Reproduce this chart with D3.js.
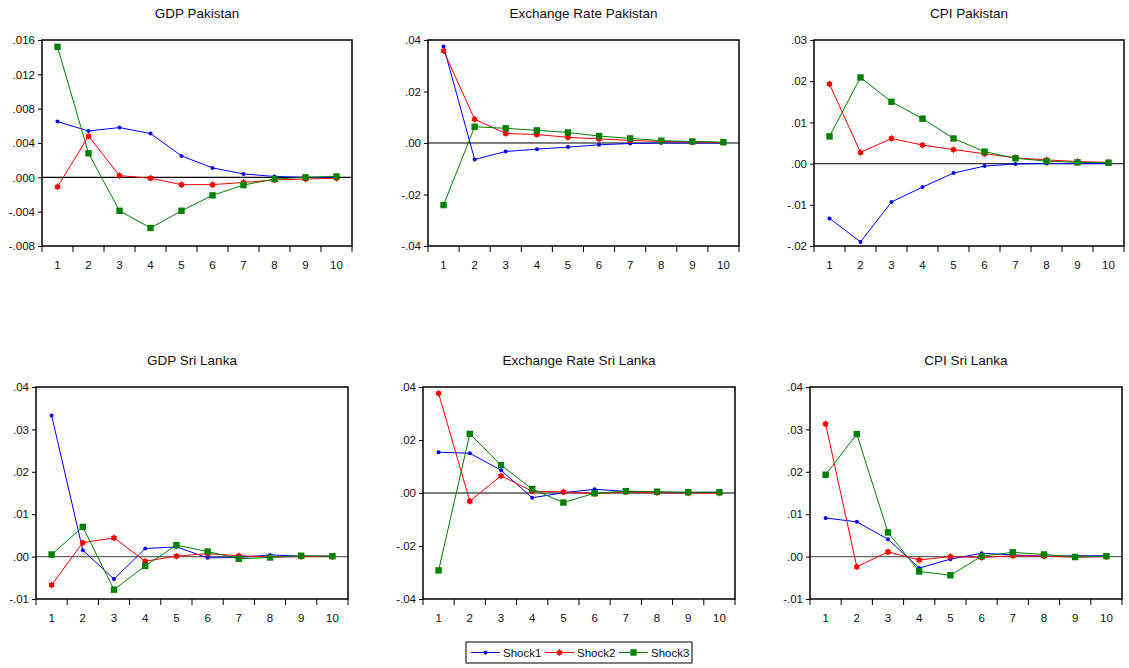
<!DOCTYPE html>
<html><head><meta charset="utf-8">
<script src="https://cdn.jsdelivr.net/npm/d3@7"></script>
<style>body{margin:0;background:#fff}svg{display:block}text{font-family:"Liberation Sans",Arial,sans-serif;fill:#111}</style>
</head><body><svg id="c" width="1129" height="668"></svg>
<script>
const periods = [1,2,3,4,5,6,7,8,9,10];
const seriesNames = ["Shock1","Shock2","Shock3"];
const titles = ["GDP Pakistan","Exchange Rate Pakistan","CPI Pakistan","GDP Sri Lanka","Exchange Rate Sri Lanka","CPI Sri Lanka"];

// GDP Pakistan
const gdpPkShock1 = [0.0065,0.0054,0.0058,0.0051,0.0025,0.0011,0.0004,0.0001,0.0000,0.0000];
const gdpPkShock2 = [-0.0011,0.0048,0.0002,-0.0001,-0.00085,-0.00085,-0.0006,-0.0003,-0.0002,-0.0001];
const gdpPkShock3 = [0.0152,0.0028,-0.0039,-0.0059,-0.0039,-0.0021,-0.0009,-0.0002,0.0000,0.0001];
const gdpPkTicks = [-0.008,-0.004,0,0.004,0.008,0.012,0.016];
// Exchange Rate Pakistan
const erPkShock1 = [0.0375,-0.0064,-0.0033,-0.0024,-0.0016,-0.0007,-0.0002,0.0000,0.0000,0.0000];
const erPkShock2 = [0.0358,0.0092,0.0037,0.0033,0.0022,0.0016,0.0010,0.0006,0.0004,0.0002];
const erPkShock3 = [-0.0241,0.0063,0.0057,0.0049,0.0041,0.0027,0.0018,0.0009,0.0006,0.0003];
const erPkTicks = [-0.04,-0.02,0,0.02,0.04];
// CPI Pakistan
const cpiPkShock1 = [-0.0133,-0.0190,-0.0093,-0.0057,-0.0023,-0.0006,-0.0001,0.0000,0.0000,0.0000];
const cpiPkShock2 = [0.0193,0.0027,0.0061,0.0045,0.0034,0.0024,0.0014,0.0009,0.0005,0.0003];
const cpiPkShock3 = [0.0066,0.0209,0.0150,0.0109,0.0061,0.0029,0.0013,0.0006,0.0003,0.0002];
const cpiPkTicks = [-0.02,-0.01,0,0.01,0.02,0.03];
// GDP Sri Lanka
const gdpSlShock1 = [0.0333,0.0015,-0.0053,0.0019,0.0023,-0.0003,-0.0002,0.0004,0.0001,0.0001];
const gdpSlShock2 = [-0.0067,0.0033,0.0044,-0.0011,0.0001,0.0007,0.0002,-0.0001,0.0000,0.0000];
const gdpSlShock3 = [0.0005,0.0070,-0.0078,-0.0022,0.0027,0.0012,-0.0005,-0.0002,0.0002,0.0001];
const gdpSlTicks = [-0.01,0,0.01,0.02,0.03,0.04];
// Exchange Rate Sri Lanka
const erSlShock1 = [0.0154,0.0150,0.0086,-0.0018,0.0001,0.0014,0.0006,0.0001,0.0002,0.0003];
const erSlShock2 = [0.0376,-0.0031,0.0065,0.0007,0.0004,-0.0002,0.0004,0.0001,0.0000,0.0000];
const erSlShock3 = [-0.0292,0.0223,0.0105,0.0015,-0.0036,-0.0001,0.0007,0.0005,0.0003,0.0003];
const erSlTicks = [-0.04,-0.02,0,0.02,0.04];
// CPI Sri Lanka
const cpiSlShock1 = [0.0091,0.0082,0.0041,-0.0027,-0.0006,0.0008,0.0004,0.0001,0.0002,0.0002];
const cpiSlShock2 = [0.0313,-0.0024,0.0011,-0.0008,0.0000,-0.0002,0.0002,0.0001,-0.0001,0.0000];
const cpiSlShock3 = [0.0193,0.0289,0.0057,-0.0035,-0.0044,0.0001,0.0010,0.0005,-0.0001,0.0001];
const cpiSlTicks = [-0.01,0,0.01,0.02,0.03,0.04];

const panelData = [
  {series:[gdpPkShock1,gdpPkShock2,gdpPkShock3], ticks:gdpPkTicks, dec:3},
  {series:[erPkShock1,erPkShock2,erPkShock3], ticks:erPkTicks, dec:2},
  {series:[cpiPkShock1,cpiPkShock2,cpiPkShock3], ticks:cpiPkTicks, dec:2},
  {series:[gdpSlShock1,gdpSlShock2,gdpSlShock3], ticks:gdpSlTicks, dec:2},
  {series:[erSlShock1,erSlShock2,erSlShock3], ticks:erSlTicks, dec:2},
  {series:[cpiSlShock1,cpiSlShock2,cpiSlShock3], ticks:cpiSlTicks, dec:2}
];
// layout (not data)
const layout = [
  {x0:42, x1:352, y0:40, y1:246, zc:"#000"},
  {x0:428, x1:739, y0:40, y1:246, zc:"#000"},
  {x0:814, x1:1124, y0:40, y1:246, zc:"#333"},
  {x0:36, x1:348, y0:387, y1:599, zc:"#666"},
  {x0:423, x1:735, y0:387, y1:599, zc:"#000"},
  {x0:810, x1:1122, y0:387, y1:599, zc:"#666"}
];
const colors = ["#0000ff","#ff0000","#008000"];

function fmt(v, dec){
  let s = Math.abs(v).toFixed(dec).replace(/^0/, "");
  return (v < -1e-12 ? "-" : "") + s;
}

const svg = d3.select("#c");

function drawMarker(g, i, x, y){
  if (i === 0){
    g.append("circle").attr("cx",x).attr("cy",y).attr("r",2).attr("fill",colors[0]);
  } else if (i === 1){
    g.append("circle").attr("cx",x).attr("cy",y).attr("r",2.6).attr("fill",colors[1]);
    g.append("path").attr("transform",`translate(${x},${y})`)
      .attr("d", d3.symbol().type(d3.symbolAsterisk).size(30)())
      .attr("stroke",colors[1]).attr("stroke-width",1).attr("fill","none");
  } else {
    g.append("rect").attr("x",x-3.2).attr("y",y-3.2).attr("width",6.4).attr("height",6.4).attr("fill",colors[2]);
  }
}

panelData.forEach((pd, k) => {
  const L = layout[k];
  const g = svg.append("g");
  const x = d3.scaleBand().domain(periods).range([L.x0, L.x1]);
  const y = d3.scaleLinear().domain(d3.extent(pd.ticks)).range([L.y1, L.y0]);
  const cx = d => x(d) + x.bandwidth()/2;

  // title
  g.append("text").attr("x",(L.x0+L.x1)/2).attr("y",L.y0-22)
    .attr("text-anchor","middle").attr("font-size",13.5).text(titles[k]);

  // y axis
  const ya = d3.axisLeft(y).tickValues(pd.ticks).tickSize(4).tickPadding(3)
    .tickFormat(v => fmt(v, pd.dec));
  const yg = g.append("g").attr("transform",`translate(${L.x0},0)`).call(ya);
  yg.select(".domain").remove();
  yg.selectAll("text").attr("font-size",11.5).attr("font-family","Liberation Sans, Arial, sans-serif").attr("fill","#111");
  yg.selectAll("line").attr("stroke","#000");

  // x axis ticks at band boundaries
  const bounds = periods.map(p => x(p)).concat([L.x1]);
  g.selectAll(".xt").data(bounds).enter().append("line")
    .attr("x1",d=>d).attr("x2",d=>d).attr("y1",L.y1).attr("y2",L.y1+6).attr("stroke","#000");
  g.selectAll(".xl").data(periods).enter().append("text")
    .attr("x",d=>cx(d)).attr("y",L.y1+23).attr("text-anchor","middle")
    .attr("font-size",11.5).text(d=>d);

  // zero line
  g.append("line").attr("x1",L.x0).attr("x2",L.x1).attr("y1",y(0)).attr("y2",y(0))
    .attr("stroke",L.zc).attr("stroke-width",1.2);

  // series
  pd.series.forEach((vals, i) => {
    const line = d3.line().x((v,j)=>cx(periods[j])).y(v=>y(v));
    g.append("path").attr("d",line(vals)).attr("fill","none")
      .attr("stroke",colors[i]).attr("stroke-width",1);
  });
  pd.series.forEach((vals, i) => {
    vals.forEach((v,j) => drawMarker(g, i, cx(periods[j]), y(v)));
  });

  // frame
  g.append("rect").attr("x",L.x0).attr("y",L.y0).attr("width",L.x1-L.x0).attr("height",L.y1-L.y0)
    .attr("fill","none").attr("stroke","#000").attr("stroke-width",1.5);
});

// legend
const lg = svg.append("g");
lg.append("rect").attr("x",466).attr("y",642).attr("width",226).attr("height",21)
  .attr("fill","#fff").attr("stroke","#000").attr("stroke-width",1);
const legX = [471, 545, 619];
seriesNames.forEach((n,i) => {
  lg.append("line").attr("x1",legX[i]).attr("x2",legX[i]+29).attr("y1",652.5).attr("y2",652.5)
    .attr("stroke",colors[i]).attr("stroke-width",1);
  drawMarker(lg, i, legX[i]+14.5, 652.5);
  lg.append("text").attr("x",legX[i]+32).attr("y",657).attr("font-size",11.5).text(n);
});
</script></body></html>
